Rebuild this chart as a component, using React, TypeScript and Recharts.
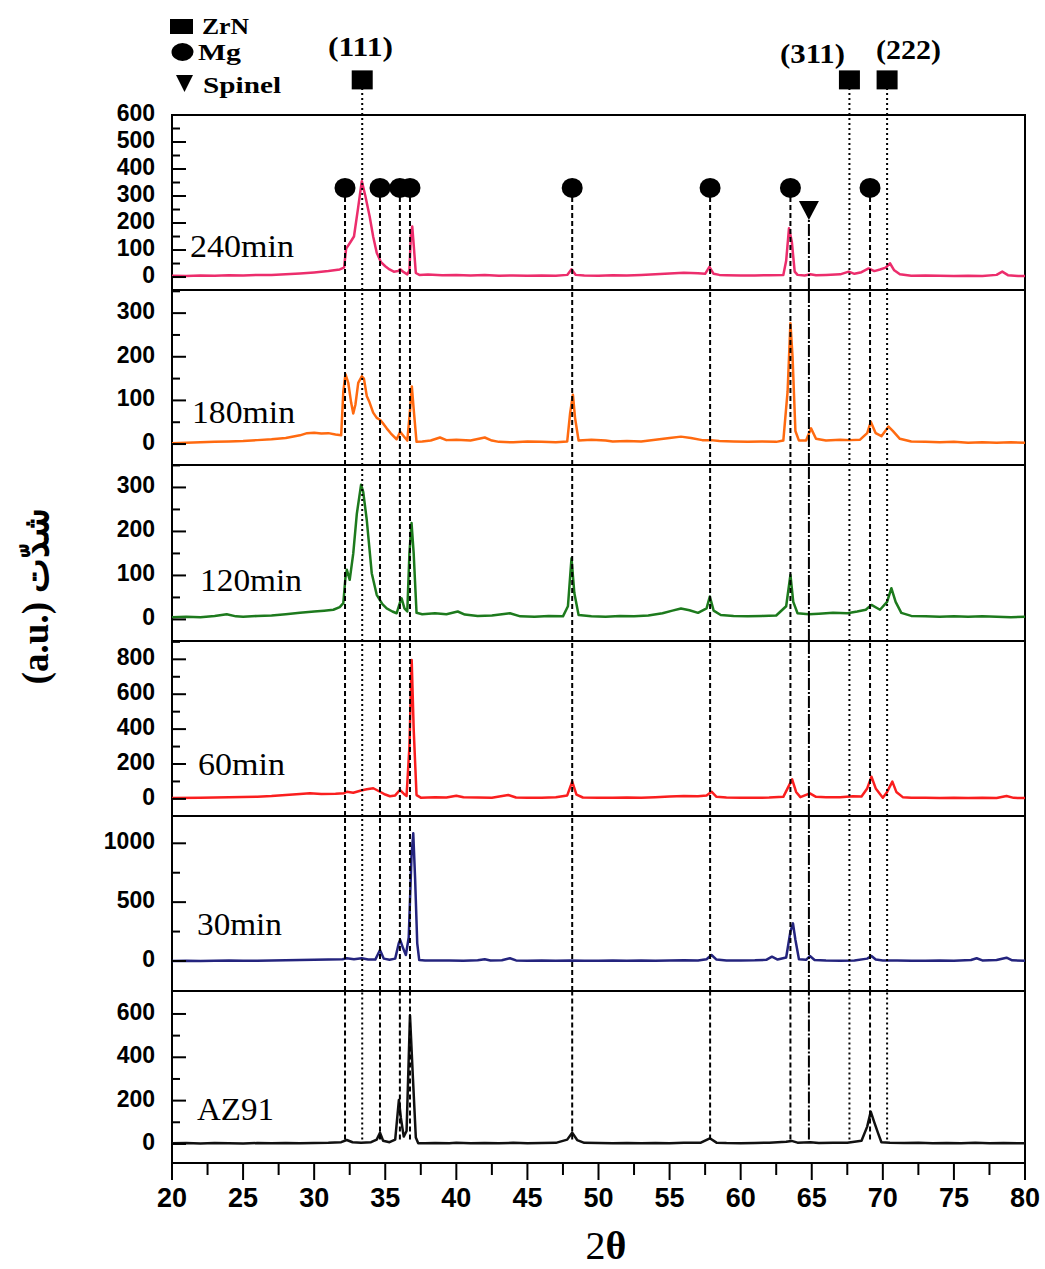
import React from 'react';
import { LineChart, Line, XAxis, YAxis, ReferenceLine, ReferenceDot, ReferenceArea } from 'recharts';

type Pt = [number, number];

// 2θ ticks
const xMajor = [20, 25, 30, 35, 40, 45, 50, 55, 60, 65, 70, 75, 80];
const xMinor = [22.5, 27.5, 32.5, 37.5, 42.5, 47.5, 52.5, 57.5, 62.5, 67.5, 72.5, 77.5];

// phase markers (2θ)
const mgPeaks = [32.17, 34.63, 36.03, 36.74, 48.15, 57.85, 63.5, 69.1];
const zrnPeaks = [33.38, 67.65, 70.3];
const spinelPeaks = [64.8];

// patterns: [2θ, intensity]
const s240: Pt[] = [
  [20, 5], [21, 4], [22, 6], [23, 5], [24, 7], [25, 6], [26, 8], [27, 8], [28, 10], [29, 13], [30, 17],
  [31, 22], [31.8, 28], [32.1, 35], [32.25, 105], [32.5, 125], [32.8, 150], [33.1, 260], [33.35, 355],
  [33.6, 300], [33.9, 225], [34.15, 150], [34.4, 90], [34.7, 55], [35.0, 40], [35.3, 28], [35.6, 20],
  [35.9, 22], [36.05, 29], [36.3, 18], [36.55, 10], [36.7, 25], [36.8, 150], [36.9, 187], [37.0, 120],
  [37.15, 15], [37.4, 8], [38, 9], [39, 7], [40, 8], [41, 6], [42, 8], [43, 5], [44, 6], [45, 5], [46, 6],
  [47, 5], [47.8, 8], [48.1, 29], [48.4, 8], [49, 6], [50, 5], [51, 7], [52, 6], [53, 8], [54, 10], [55, 13],
  [56, 16], [57, 14], [57.5, 12], [57.8, 38], [58.1, 12], [58.5, 8], [59, 7], [60, 6], [61, 6], [62, 7],
  [63, 8], [63.2, 60], [63.4, 181], [63.6, 130], [63.8, 20], [64.0, 8], [64.5, 6], [64.9, 10], [65.3, 7],
  [66, 8], [67, 10], [67.6, 20], [68, 12], [68.5, 18], [69.0, 32], [69.4, 22], [69.8, 28], [70.2, 35],
  [70.5, 51], [70.8, 25], [71.2, 10], [72, 5], [73, 6], [74, 5], [75, 4], [76, 5], [77, 4], [78, 8],
  [78.4, 20], [78.8, 7], [79.5, 4], [80, 4],
];

const s180: Pt[] = [
  [20, 2], [21, 3], [22, 4], [23, 5], [24, 6], [25, 7], [26, 9], [27, 11], [28, 14], [29, 20], [29.5, 25],
  [30, 26], [30.5, 24], [31, 25], [31.5, 22], [31.9, 20], [32.05, 120], [32.2, 160], [32.4, 140],
  [32.6, 95], [32.75, 70], [32.9, 90], [33.1, 140], [33.35, 155], [33.5, 150], [33.7, 110], [33.9, 95],
  [34.15, 72], [34.4, 60], [34.65, 55], [34.9, 45], [35.1, 36], [35.4, 24], [35.8, 11], [36.05, 28],
  [36.3, 18], [36.55, 8], [36.75, 80], [36.87, 132], [37.0, 80], [37.2, 5], [37.6, 6], [38.2, 8],
  [38.85, 15], [39.3, 9], [40, 10], [41, 8], [42, 15], [42.5, 8], [43, 5], [44, 4], [45, 6], [46, 5],
  [47, 4], [47.8, 6], [48.0, 70], [48.2, 113], [48.35, 60], [48.6, 8], [49.5, 10], [50.5, 8], [51, 6],
  [52, 7], [53, 6], [54, 10], [55, 14], [55.8, 17], [56.5, 14], [57.3, 9], [57.9, 9], [58.5, 7], [59.5, 6],
  [60.5, 5], [61.5, 6], [62.5, 5], [63.0, 8], [63.3, 120], [63.5, 277], [63.65, 200], [63.85, 30],
  [64.1, 8], [64.6, 8], [64.95, 36], [65.3, 12], [66, 8], [67, 10], [67.7, 9], [68.4, 10], [68.9, 25],
  [69.15, 51], [69.5, 25], [69.9, 18], [70.4, 40], [70.7, 30], [71.2, 12], [72, 6], [73, 5], [74, 4],
  [75, 5], [76, 3], [77, 4], [78, 3], [79, 4], [80, 3],
];

const s120: Pt[] = [
  [20, 5], [21, 6], [22, 5], [23, 8], [23.85, 12], [24.5, 7], [25, 6], [26, 8], [27, 9], [28, 12], [29, 15],
  [30, 18], [30.7, 20], [31.35, 22], [31.8, 28], [32.05, 37], [32.2, 95], [32.3, 113], [32.5, 90],
  [32.75, 150], [33.0, 240], [33.3, 306], [33.45, 290], [33.7, 226], [34.05, 105], [34.4, 56], [34.8, 35],
  [35.1, 25], [35.5, 18], [35.8, 14], [36.05, 40], [36.15, 48], [36.35, 25], [36.55, 18], [36.7, 150],
  [36.85, 219], [37.0, 150], [37.2, 15], [37.6, 12], [38.5, 14], [39.3, 12], [40.1, 18], [40.6, 11],
  [41.5, 8], [42.5, 9], [43.77, 14], [44.5, 7], [45.5, 6], [46.5, 8], [47.5, 7], [47.85, 30], [48.1, 139],
  [48.3, 60], [48.6, 10], [49.5, 7], [50.5, 6], [51.5, 8], [52.5, 7], [53.5, 9], [54.5, 14], [55.2, 20],
  [55.8, 25], [56.4, 21], [57.0, 15], [57.6, 25], [57.83, 52], [58.1, 20], [58.6, 10], [59.5, 8],
  [60.5, 7], [61.5, 8], [62.5, 9], [63.2, 30], [63.5, 101], [63.7, 40], [64.0, 14], [64.8, 12], [65.5, 13],
  [66.5, 15], [67.5, 14], [68.2, 18], [68.8, 22], [69.2, 33], [69.8, 22], [70.3, 40], [70.6, 71],
  [70.9, 40], [71.3, 15], [72, 8], [73, 7], [74, 6], [75, 7], [76, 6], [77, 7], [78, 6], [79, 5], [80, 6],
];

const s60: Pt[] = [
  [20, 5], [22, 7], [24, 9], [26, 12], [27, 16], [28, 22], [29, 28], [29.7, 32], [30.5, 28], [31.5, 30],
  [32.1, 33], [32.3, 41], [32.75, 35], [33.3, 48], [33.7, 55], [34.16, 61], [34.63, 41], [35.0, 25],
  [35.33, 15], [35.7, 20], [36.03, 51], [36.3, 30], [36.5, 17], [36.7, 300], [36.86, 796], [37.0, 400],
  [37.2, 22], [37.5, 7], [38.5, 9], [39.3, 8], [40.0, 18], [40.5, 9], [41.5, 8], [42.5, 7], [43.65, 22],
  [44.2, 8], [45, 6], [46, 7], [47, 9], [47.8, 20], [48.15, 99], [48.45, 25], [48.9, 8], [50, 7], [51, 6],
  [52, 8], [53, 7], [54, 10], [55, 14], [56, 17], [57, 15], [57.6, 20], [57.95, 41], [58.3, 12], [59, 8],
  [60, 7], [61, 6], [62, 8], [63.0, 12], [63.3, 60], [63.62, 112], [63.9, 40], [64.2, 10], [64.87, 32],
  [65.3, 12], [66, 9], [67, 10], [67.9, 15], [68.5, 14], [68.9, 60], [69.2, 127], [69.5, 60], [70.0, 7],
  [70.3, 40], [70.67, 99], [70.95, 40], [71.4, 10], [72, 6], [73, 7], [74, 5], [75, 6], [76, 5], [77, 6],
  [78, 5], [78.7, 17], [79.2, 6], [80, 5],
];

const s30: Pt[] = [
  [20, 0], [21, 2], [22, 0], [23, 3], [24, 5], [25, 2], [26, 3], [27, 4], [28, 6], [29, 8], [30, 10],
  [31, 12], [32, 15], [32.29, 23], [32.8, 15], [33.34, 23], [33.8, 12], [34.3, 12], [34.63, 93],
  [34.9, 20], [35.3, 10], [35.7, 20], [35.95, 150], [36.05, 178], [36.25, 110], [36.45, 51], [36.65, 200],
  [36.85, 900], [36.97, 1085], [37.1, 700], [37.25, 150], [37.39, 8], [37.8, 5], [38.5, 4], [39.5, 5],
  [40.5, 3], [41.5, 6], [42.0, 15], [42.4, 5], [43.2, 6], [43.77, 23], [44.2, 5], [45, 3], [46, 4], [47, 2],
  [48, 4], [49, 3], [50, 2], [51, 4], [52, 3], [53, 5], [54, 3], [55, 4], [56, 6], [57, 5], [57.6, 15],
  [57.95, 51], [58.3, 12], [59, 5], [60, 4], [61, 6], [61.8, 10], [62.2, 37], [62.6, 12], [63.2, 30],
  [63.5, 250], [63.68, 320], [63.85, 180], [64.1, 15], [64.6, 10], [64.87, 42], [65.2, 8], [66, 4], [67, 3],
  [68, 5], [68.9, 20], [69.2, 42], [69.5, 12], [70, 5], [71, 4], [72, 3], [73, 2], [74, 4], [75, 3],
  [76.2, 8], [76.6, 23], [77, 5], [78, 8], [78.7, 28], [79.1, 6], [80, 3],
];

const sAZ91: Pt[] = [
  [20, 3], [21, 4], [22, 2], [23, 4], [24, 3], [25, 2], [26, 4], [27, 3], [28, 4], [29, 3], [30, 4], [31, 5],
  [31.9, 8], [32.29, 18], [32.7, 8], [33.3, 6], [34.0, 8], [34.4, 20], [34.63, 52], [34.85, 15], [35.3, 8],
  [35.7, 20], [35.96, 203], [36.1, 120], [36.3, 34], [36.5, 60], [36.74, 594], [36.95, 300], [37.15, 30],
  [37.32, 3], [37.8, 3], [38.5, 4], [39.5, 3], [40, 6], [41, 3], [42, 4], [43, 3], [44, 5], [45, 3], [46, 4],
  [47, 5], [47.8, 20], [48.15, 52], [48.5, 18], [49, 5], [50, 4], [51, 3], [52, 4], [53, 3], [54, 4], [55, 3],
  [56, 5], [57.2, 6], [57.83, 26], [58.3, 6], [59, 4], [60, 3], [61, 4], [62, 6], [63.2, 10], [63.58, 14],
  [64.0, 6], [64.9, 8], [65.5, 4], [66.5, 5], [67.5, 6], [68.5, 15], [68.9, 80], [69.15, 149], [69.4, 100],
  [69.67, 49], [69.9, 8], [70.5, 5], [71.5, 4], [72.5, 5], [73.5, 3], [74.5, 4], [75.5, 3], [76.5, 5],
  [77.5, 3], [78.5, 4], [79.5, 3], [80, 3],
];

// y ticks per panel
const y240Major = [0, 100, 200, 300, 400, 500, 600];
const y240Minor = [50, 150, 250, 350, 450, 550];
const y180Major = [0, 100, 200, 300];
const y180Minor = [50, 150, 250, 350];
const y60Major = [0, 200, 400, 600, 800];
const y60Minor = [100, 300, 500, 700, 900];
const y30Major = [0, 500, 1000];
const y30Minor = [250, 750];
const yAZMajor = [0, 200, 400, 600];
const yAZMinor = [100, 300, 500];

const SANS = "'Liberation Sans', Arial, Helvetica, sans-serif";
const SERIF = "'Liberation Serif', 'Times New Roman', Times, serif";

// marker heights in the top panel's scale
const MG_MARK = 330;
const SPINEL_MARK = 248;
const ZRN_MARK = 730;

const panels = [
  { name: '240min', pts: s240, color: '#ec2d6c', domain: [-48, 600], yMajor: y240Major, yMinor: y240Minor, top: 115, h: 175 },
  { name: '180min', pts: s180, color: '#ff6a10', domain: [-48, 353], yMajor: y180Major, yMinor: y180Minor, top: 290, h: 175 },
  { name: '120min', pts: s120, color: '#1d7a1d', domain: [-49, 351], yMajor: y180Major, yMinor: y180Minor, top: 465, h: 176 },
  { name: '60min', pts: s60, color: '#fa1e1e', domain: [-98, 905], yMajor: y60Major, yMinor: y60Minor, top: 641, h: 175 },
  { name: '30min', pts: s30, color: '#24247e', domain: [-255, 1232], yMajor: y30Major, yMinor: y30Minor, top: 816, h: 175 },
  { name: 'AZ91', pts: sAZ91, color: '#111111', domain: [-88, 706], yMajor: yAZMajor, yMinor: yAZMinor, top: 991, h: 172 },
];

const seriesLabels = [
  { text: '240min', x: 190, y: 257, w: 104 },
  { text: '180min', x: 192, y: 423, w: 103 },
  { text: '120min', x: 200, y: 591, w: 102 },
  { text: '60min', x: 198, y: 775, w: 87 },
  { text: '30min', x: 197, y: 935, w: 85 },
  { text: 'AZ91', x: 197, y: 1120, w: 77 },
];

function YTick(props: any) {
  const { x, y, payload, majors } = props;
  const major = majors.includes(payload.value);
  return (
    <g>
      <line x1={x} x2={x + (major ? 14 : 8)} y1={y} y2={y} stroke="#000" strokeWidth={2} />
      {major && (
        <text x={x - 17} y={y - 2} textAnchor="end" dominantBaseline="central"
          fontFamily={SANS} fontWeight="bold" fontSize={23} fill="#000">
          {payload.value}
        </text>
      )}
    </g>
  );
}

function XTick(props: any) {
  const { x, y, payload, last } = props;
  const major = xMajor.includes(payload.value);
  const len = last ? (major ? 17 : 12) : (major ? -12 : -6);
  return (
    <g>
      <line x1={x} x2={x} y1={y} y2={y + len} stroke="#000" strokeWidth={2} />
      {last && major && (
        <text x={x} y={y + 35} textAnchor="middle" dominantBaseline="central"
          fontFamily={SANS} fontWeight="bold" fontSize={27} fill="#000">
          {payload.value}
        </text>
      )}
    </g>
  );
}

const square = (p: any) => <rect x={p.cx - 10.5} y={p.cy - 9.5} width={21} height={19} fill="#000" />;
const triangle = (p: any) => (
  <polygon points={`${p.cx - 10},${p.cy - 9} ${p.cx + 10},${p.cy - 9} ${p.cx},${p.cy + 10}`} fill="#000" />
);
const circle = (p: any) => <ellipse cx={p.cx} cy={p.cy} rx={10.5} ry={10} fill="#000" />;

function Panel({ p, first, last }: { p: any; first: boolean; last: boolean }) {
  const data = p.pts.map(([x, y]: Pt) => ({ x, y }));
  const [y0, y1] = p.domain;
  const marginTop = first ? p.top : 0;
  const chartH = p.h + marginTop + (last ? 60 : 0);
  const bottom = last ? 20 : y0;
  const xTicks = [...xMajor, ...xMinor].sort((a, b) => a - b);
  return (
    <div style={{ position: 'absolute', left: 0, top: first ? 0 : p.top }}>
      <LineChart width={1045} height={chartH} data={data} margin={{ top: marginTop, right: 20, bottom: 0, left: 0 }}>
        <XAxis type="number" dataKey="x" domain={[20, 80]} ticks={xTicks} interval={0} allowDataOverflow
          tickSize={0} tickMargin={0} axisLine={false} tickLine={false} height={last ? 60 : 0}
          tick={<XTick last={last} />} />
        <YAxis type="number" domain={p.domain} ticks={[...p.yMajor, ...p.yMinor]} interval={0} allowDataOverflow
          width={172} tickSize={0} tickMargin={0} axisLine={false} tickLine={false}
          tick={<YTick majors={p.yMajor} />} />
        <Line type="linear" dataKey="y" stroke={p.color} strokeWidth={2.5} strokeLinejoin="round" dot={false} isAnimationActive={false} />
        {mgPeaks.map((m) => (
          <ReferenceLine key={'mg' + m} ifOverflow="visible" stroke="#000" strokeWidth={2} strokeDasharray="5 3"
            segment={[{ x: m, y: bottom }, { x: m, y: first ? MG_MARK : y1 }]} />
        ))}
        {zrnPeaks.map((m) => (
          <ReferenceLine key={'zr' + m} ifOverflow="visible" stroke="#000" strokeWidth={2} strokeDasharray="2 3"
            segment={[{ x: m, y: bottom }, { x: m, y: first ? ZRN_MARK : y1 }]} />
        ))}
        {spinelPeaks.map((m) => (
          <ReferenceLine key={'sp' + m} ifOverflow="visible" stroke="#000" strokeWidth={2} strokeDasharray="12 2 2 2"
            segment={[{ x: m, y: bottom }, { x: m, y: first ? SPINEL_MARK : y1 }]} />
        ))}
        <ReferenceArea x1={20} x2={80} y1={y0} y2={y1} fill="none" stroke="#000" strokeWidth={2} ifOverflow="visible" />
        {first && mgPeaks.map((m) => (
          <ReferenceDot key={'mgd' + m} x={m} y={MG_MARK} r={10} ifOverflow="visible" shape={circle} />
        ))}
        {first && zrnPeaks.map((m) => (
          <ReferenceDot key={'zrd' + m} x={m} y={ZRN_MARK} r={10} ifOverflow="visible" shape={square} />
        ))}
        {first && spinelPeaks.map((m) => (
          <ReferenceDot key={'spd' + m} x={m} y={SPINEL_MARK} r={10} ifOverflow="visible" shape={triangle} />
        ))}
      </LineChart>
    </div>
  );
}

export default function App() {
  return (
    <div style={{ position: 'absolute', left: 0, top: 0, width: 1045, height: 1269, background: '#fff' }}>
      {panels.map((p, i) => (
        <Panel key={p.name} p={p} first={i === 0} last={i === panels.length - 1} />
      ))}
      <svg width={1045} height={1269} style={{ position: 'absolute', left: 0, top: 0, pointerEvents: 'none' }}>
        {/* legend */}
        <rect x={170} y={19} width={23} height={15} fill="#000" />
        <text x={202} y={34} fontFamily={SERIF} fontWeight="bold" fontSize={24} textLength={47} lengthAdjust="spacingAndGlyphs">ZrN</text>
        <ellipse cx={182.5} cy={52} rx={11} ry={9} fill="#000" />
        <text x={198} y={60} fontFamily={SERIF} fontWeight="bold" fontSize={24} textLength={43} lengthAdjust="spacingAndGlyphs">Mg</text>
        <polygon points="176,75 193,75 184.5,92" fill="#000" />
        <text x={203} y={93} fontFamily={SERIF} fontWeight="bold" fontSize={24} textLength={78} lengthAdjust="spacingAndGlyphs">Spinel</text>
        {/* reflections */}
        <text x={328} y={56} fontFamily={SERIF} fontWeight="bold" fontSize={28} textLength={65} lengthAdjust="spacingAndGlyphs">(111)</text>
        <text x={780} y={63} fontFamily={SERIF} fontWeight="bold" fontSize={28} textLength={65} lengthAdjust="spacingAndGlyphs">(311)</text>
        <text x={876} y={59} fontFamily={SERIF} fontWeight="bold" fontSize={28} textLength={65} lengthAdjust="spacingAndGlyphs">(222)</text>
        {seriesLabels.map((s) => (
          <text key={s.text} x={s.x} y={s.y} fontFamily={SERIF} fontSize={31} textLength={s.w} lengthAdjust="spacingAndGlyphs">{s.text}</text>
        ))}
        {/* axis titles */}
        <text x={606} y={1259} textAnchor="middle" fontFamily={SERIF} fontSize={40}>
          2<tspan fontWeight="bold">θ</tspan>
        </text>
        <text x={0} y={0} transform="translate(48,596) rotate(-90)" textAnchor="middle"
          fontFamily={SERIF} fontWeight="bold" fontSize={37}>
          (a.u.) شدّت
        </text>
      </svg>
    </div>
  );
}
